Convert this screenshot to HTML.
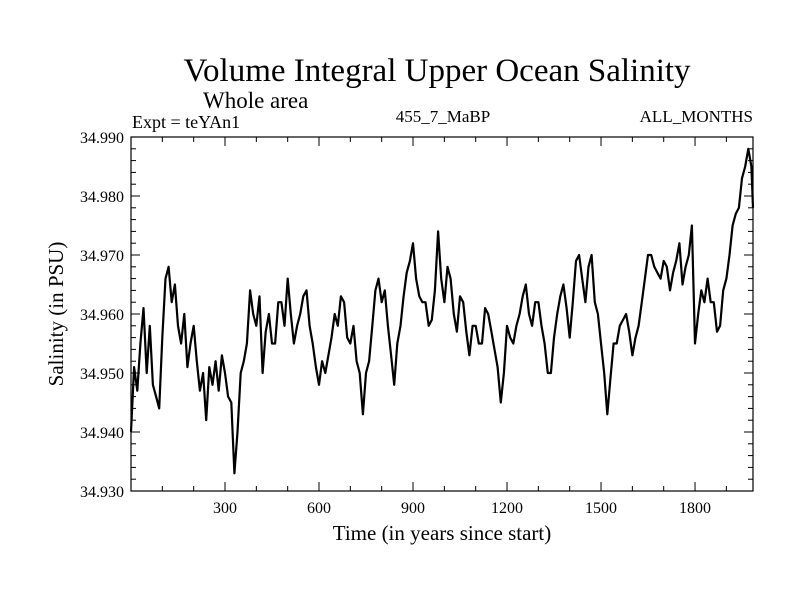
<!DOCTYPE html>
<html><head><meta charset="utf-8"><style>body{margin:0;background:#fff}svg text{font-family:"Liberation Serif",serif;fill:#000}</style></head>
<body>
<svg width="800" height="600" id="c">
<text x="437" y="81" font-size="33" text-anchor="middle">Volume Integral Upper Ocean Salinity</text>
<text x="203" y="108" font-size="23">Whole area</text>
<text x="132" y="128" font-size="18">Expt = teYAn1</text>
<text x="443" y="122" font-size="17" text-anchor="middle">455_7_MaBP</text>
<text x="753" y="122" font-size="17" text-anchor="end">ALL_MONTHS</text>
<text x="442" y="540" font-size="21" text-anchor="middle">Time (in years since start)</text>
<text transform="translate(63,314) rotate(-90)" font-size="21" text-anchor="middle">Salinity (in PSU)</text>
<g id="axes"></g>
<path id="line" fill="none" stroke="#000" stroke-width="2.2" stroke-linejoin="round"/>
<rect x="131" y="137" width="622" height="354" fill="none" stroke="#000" stroke-width="1.2"/>
</svg>
<script>
const years=[0,10,20,30,40,50,60,70,80,90,100,110,120,130,140,150,160,170,180,190,200,210,220,230,240,250,260,270,280,290,300,310,320,330,340,350,360,370,380,390,400,410,420,430,440,450,460,470,480,490,500,510,520,530,540,550,560,570,580,590,600,610,620,630,640,650,660,670,680,690,700,710,720,730,740,750,760,770,780,790,800,810,820,830,840,850,860,870,880,890,900,910,920,930,940,950,960,970,980,990,1000,1010,1020,1030,1040,1050,1060,1070,1080,1090,1100,1110,1120,1130,1140,1150,1160,1170,1180,1190,1200,1210,1220,1230,1240,1250,1260,1270,1280,1290,1300,1310,1320,1330,1340,1350,1360,1370,1380,1390,1400,1410,1420,1430,1440,1450,1460,1470,1480,1490,1500,1510,1520,1530,1540,1550,1560,1570,1580,1590,1600,1610,1620,1630,1640,1650,1660,1670,1680,1690,1700,1710,1720,1730,1740,1750,1760,1770,1780,1790,1800,1810,1820,1830,1840,1850,1860,1870,1880,1890,1900,1910,1920,1930,1940,1950,1960,1970,1980,1990];
const salinity=[34.940,34.951,34.947,34.955,34.961,34.950,34.958,34.948,34.946,34.944,34.956,34.966,34.968,34.962,34.965,34.958,34.955,34.960,34.951,34.955,34.958,34.952,34.947,34.950,34.942,34.951,34.948,34.952,34.947,34.953,34.950,34.946,34.945,34.933,34.940,34.950,34.952,34.955,34.964,34.960,34.958,34.963,34.950,34.957,34.960,34.955,34.955,34.962,34.962,34.958,34.966,34.960,34.955,34.958,34.960,34.963,34.964,34.958,34.955,34.951,34.948,34.952,34.950,34.953,34.956,34.960,34.958,34.963,34.962,34.956,34.955,34.958,34.952,34.950,34.943,34.950,34.952,34.958,34.964,34.966,34.962,34.964,34.958,34.953,34.948,34.955,34.958,34.963,34.967,34.969,34.972,34.966,34.963,34.962,34.962,34.958,34.959,34.964,34.974,34.966,34.962,34.968,34.966,34.960,34.957,34.963,34.962,34.957,34.953,34.958,34.958,34.955,34.955,34.961,34.960,34.957,34.954,34.951,34.945,34.950,34.958,34.956,34.955,34.958,34.960,34.963,34.965,34.960,34.958,34.962,34.962,34.958,34.955,34.950,34.950,34.956,34.960,34.963,34.965,34.961,34.956,34.962,34.969,34.970,34.966,34.962,34.968,34.970,34.962,34.960,34.955,34.950,34.943,34.949,34.955,34.955,34.958,34.959,34.960,34.957,34.953,34.956,34.958,34.962,34.966,34.970,34.970,34.968,34.967,34.966,34.969,34.968,34.964,34.967,34.969,34.972,34.965,34.968,34.970,34.975,34.955,34.960,34.964,34.962,34.966,34.962,34.962,34.957,34.958,34.964,34.966,34.970,34.975,34.977,34.978,34.983,34.985,34.988,34.985,34.978];
const xTicks=[300,600,900,1200,1500,1800];
const yTicks=[34.930,34.940,34.950,34.960,34.970,34.980,34.990];
const X0=131,X1=753,Y0=491,Y1=137,XMAX=1985,YMIN=34.930,YMAX=34.990;
const xs=v=>X0+(Math.min(v,XMAX)/XMAX)*(X1-X0);
const ys=v=>Y0-(v-YMIN)/(YMAX-YMIN)*(Y0-Y1);
const NS="http://www.w3.org/2000/svg";
const g=document.getElementById('axes');
function ln(x1,y1,x2,y2,name){const l=document.createElementNS(NS,'line');l.setAttribute('x1',x1);l.setAttribute('y1',y1);l.setAttribute('x2',x2);l.setAttribute('y2',y2);l.setAttribute('stroke','#000');l.setAttribute('stroke-width','1');


g.appendChild(l);}
function tx(x,y,s,anchor,name){const t=document.createElementNS(NS,'text');t.setAttribute('x',x);t.setAttribute('y',y);t.setAttribute('font-size','16');t.setAttribute('text-anchor',anchor);t.textContent=s;


g.appendChild(t);}
for(let v=100;v<XMAX;v+=100){const x=xs(v);const L=(v%300===0)?9:5;ln(x,Y0,x,Y0-L,'x-tick');ln(x,Y1,x,Y1+L,'x-tick-top');}
xTicks.forEach(v=>tx(xs(v),513,String(v),'middle','x-tick-label'));
for(let i=0;i<=30;i++){const v=YMIN+i*0.002;const y=ys(v);const L=(i%5===0)?9:5;ln(X0,y,X0+L,y,'y-tick');ln(X1,y,X1-L,y,'y-tick-right');}
yTicks.forEach(v=>tx(124,ys(v)+6,v.toFixed(3),'end','y-tick-label'));
let d='';years.forEach((yr,i)=>{d+=(i?'L':'M')+xs(yr).toFixed(1)+','+ys(salinity[i]).toFixed(1);});
document.getElementById('line').setAttribute('d',d);
</script>
</body></html>
